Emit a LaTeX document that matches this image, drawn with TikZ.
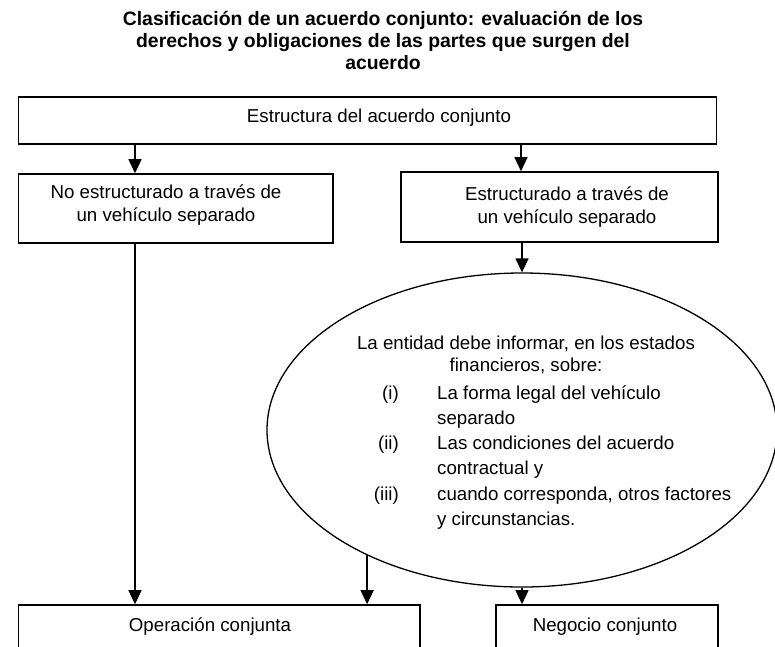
\documentclass[tikz,border=0pt]{standalone}
\usepackage{fontspec}
\setmainfont{Liberation Sans}
\usetikzlibrary{shapes.geometric,arrows.meta}
\begin{document}
\begin{tikzpicture}[x=1pt,y=-1pt,
  box/.style={draw,line width=1.6pt,inner sep=0pt},
  txt/.style={font=\fontsize{18.7}{23}\selectfont,align=center,inner sep=0pt},
  ltxt/.style={font=\fontsize{18.7}{25}\selectfont,align=left,inner sep=0pt},
  arr/.style={line width=1.4pt,-{Triangle[width=13pt,length=14pt]}},
]
\useasboundingbox (0,0) rectangle (775,646);
\clip (0,0) rectangle (775,646);
% title
\node[font=\bfseries\fontsize{19.4}{22}\selectfont,align=center,inner sep=0pt] (title) at (383,40)
  {Clasificación de un acuerdo conjunto: evaluación de los\\derechos y obligaciones de las partes que surgen del\\acuerdo};
% boxes
\node[box,minimum width=698pt,minimum height=47pt] (top) at (367.5,120.5) {};
\node[txt] (topt) at (379,118) {Estructura del acuerdo conjunto};
\node[box,minimum width=314.5pt,minimum height=69pt] (nsep) at (175.75,208.5) {};
\node[txt] (nsept) at (166,205.5) {No estructurado a través de\\un vehículo separado};
\node[box,minimum width=317pt,minimum height=70pt] (sep) at (559.5,207) {};
\node[txt] (sept) at (567,207) {Estructurado a través de\\un vehículo separado};
\node[draw,ellipse,line width=1.3pt,minimum width=510pt,minimum height=314pt,inner sep=0pt] (ell) at (522,430) {};
\node[font=\fontsize{18.7}{22.5}\selectfont,align=center,inner sep=0pt] (e0) at (526,355)
  {La entidad debe informar, en los estados\\financieros, sobre:};
\node[ltxt,anchor=base east] (n1) at (399,399) {(i)};
\node[ltxt,anchor=base west] (t1) at (437,424) {La forma legal del vehículo\\separado};
\node[ltxt,anchor=base east] (n2) at (399,449) {(ii)};
\node[ltxt,anchor=base west] (t2) at (437,474) {Las condiciones del acuerdo\\contractual y};
\node[ltxt,anchor=base east] (n3) at (399,500) {(iii)};
\node[ltxt,anchor=base west] (t3) at (437,525) {cuando corresponda, otros factores\\y circunstancias.};
\node[box,minimum width=401.5pt,minimum height=60pt] (op) at (219.25,635) {};
\node[txt] (opt) at (210,627) {Operación conjunta};
\node[box,minimum width=222pt,minimum height=60pt] (neg) at (607,635) {};
\node[txt] (negt) at (605,627) {Negocio conjunto};
% connectors
\coordinate (xl) at (135,0);
\coordinate (xr) at (521,0);
\coordinate (e1) at (ell.219);
\draw[arr] (top.south -| xl) -- (nsep.north -| xl);
\draw[arr] (top.south -| xr) -- (sep.north -| xr);
\draw[arr] (nsep.south -| xl) -- (op.north -| xl);
\draw[arr] (sep.south -| ell.north) -- (ell.north);
\draw[arr] (e1) -- (e1 |- op.north);
\draw[arr] (ell.south) -- (neg.north -| ell.south);
\end{tikzpicture}
\end{document}
